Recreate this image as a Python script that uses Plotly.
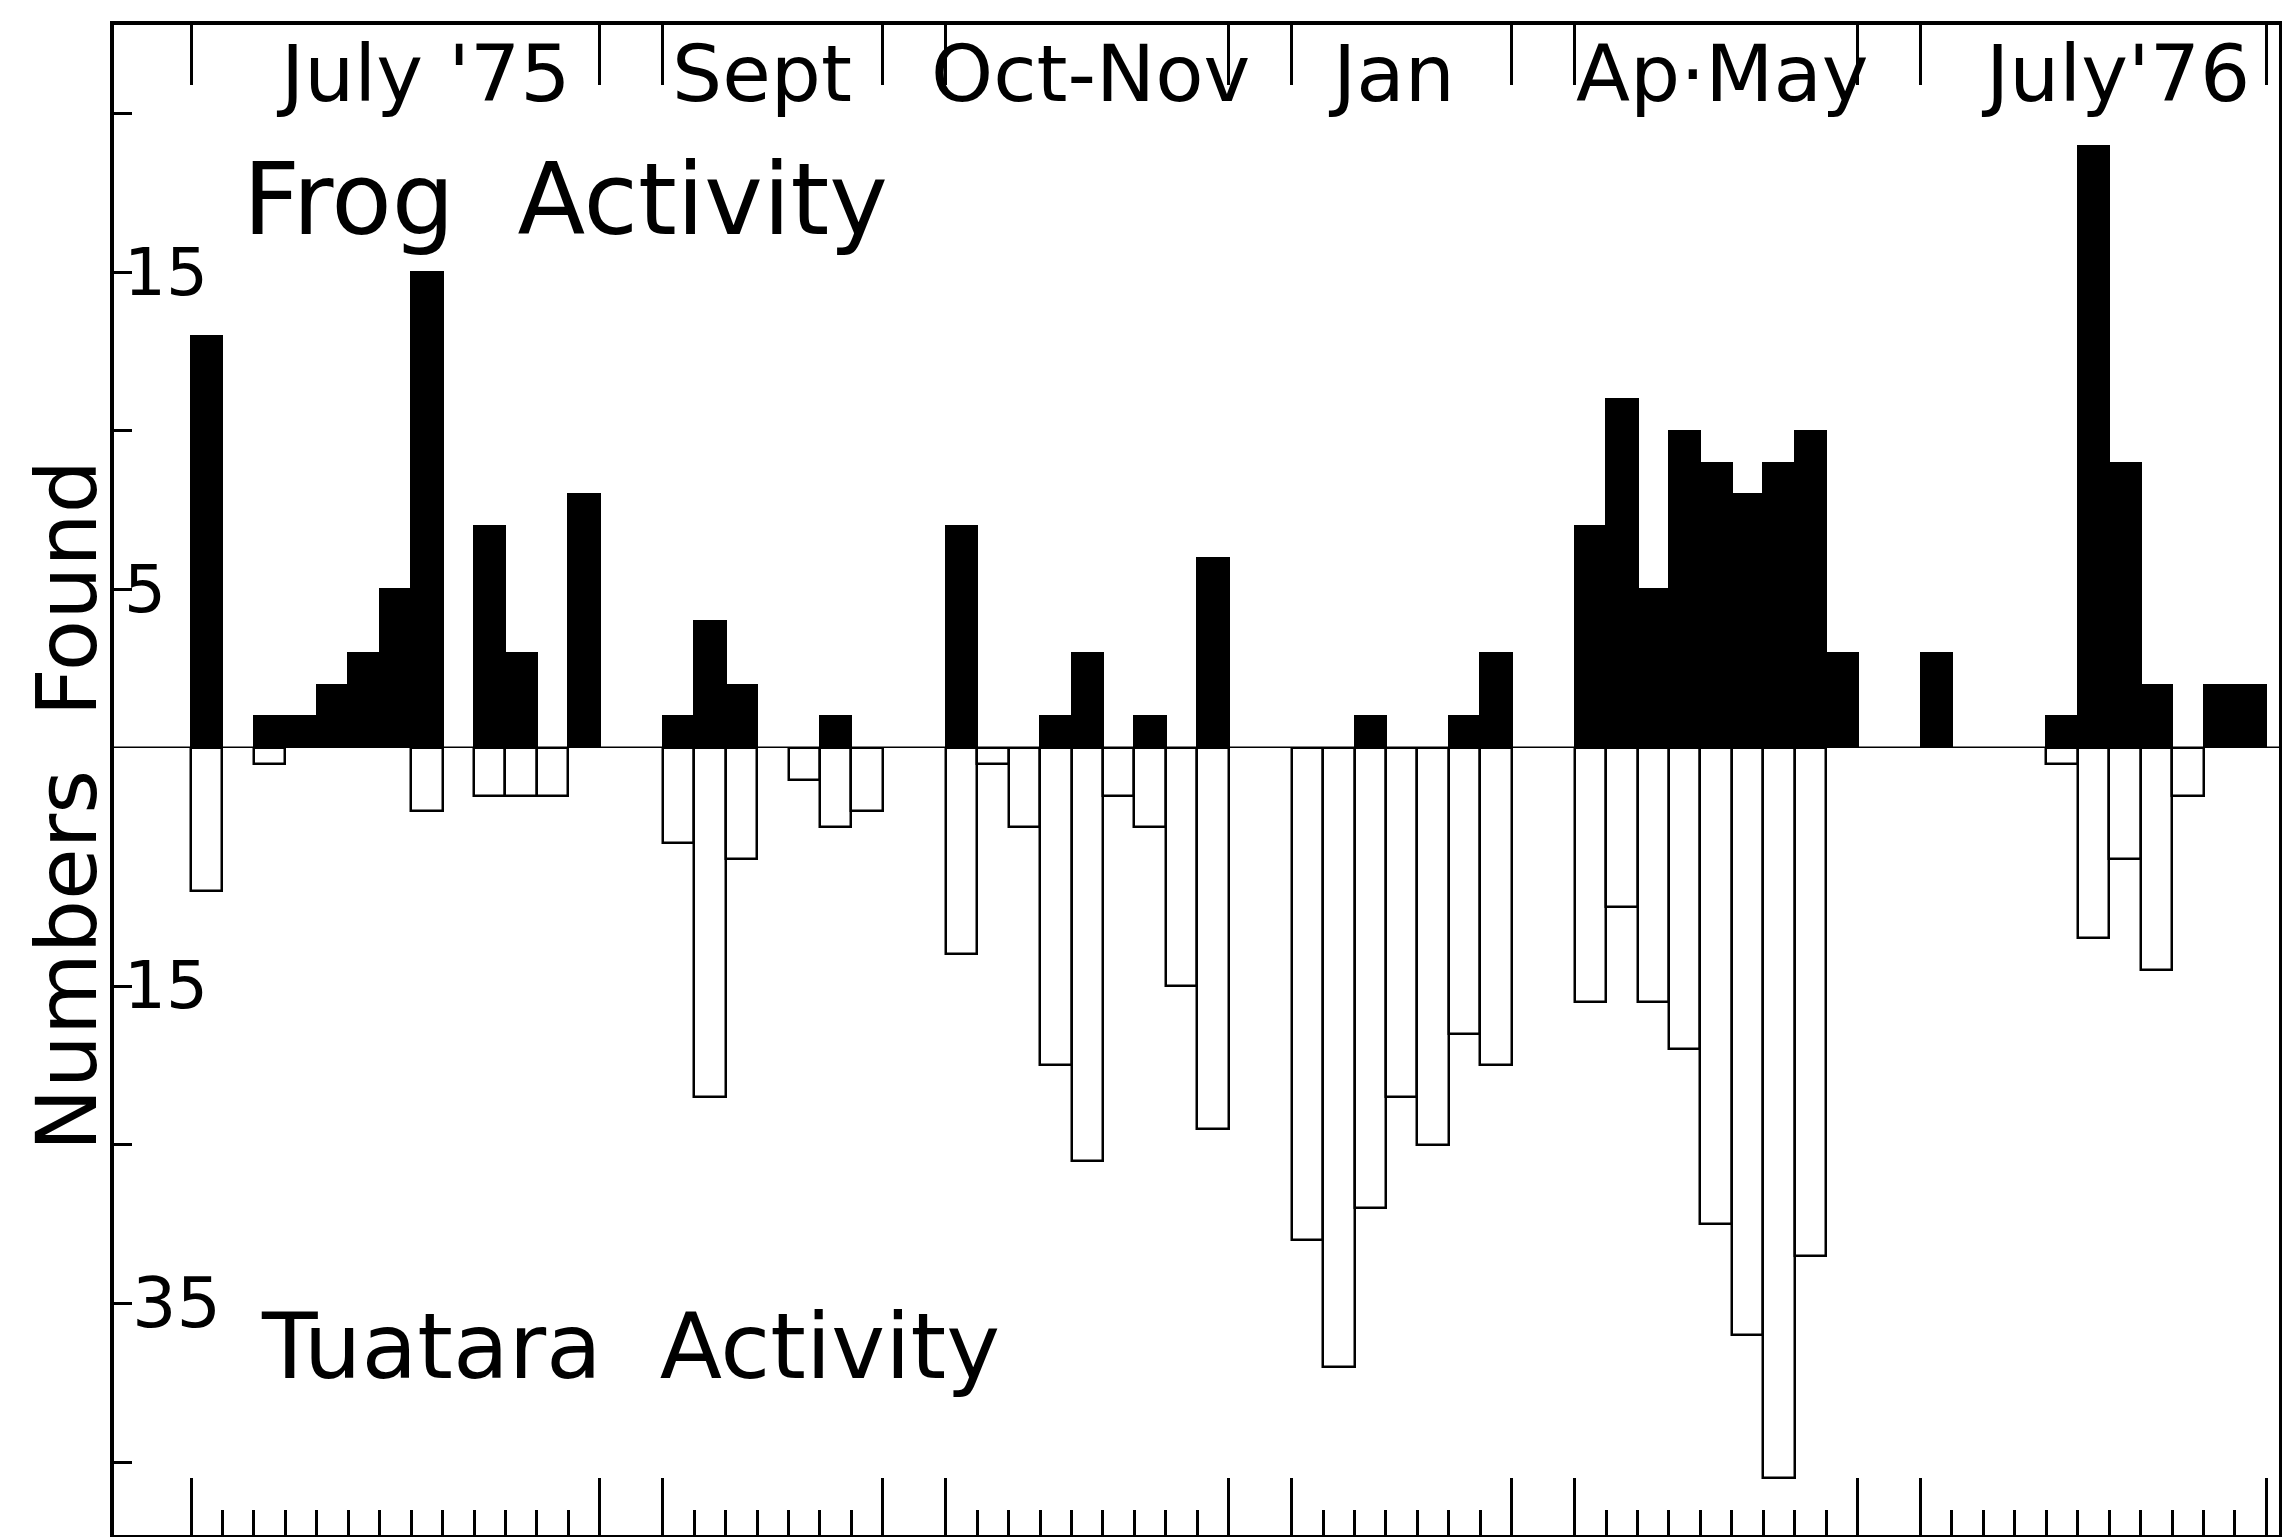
import plotly.graph_objects as go

# ---- data ----
# consecutive sampling nights, numbered 1..66
samples = list(range(1, 67))
frog = [13, 0, 1, 1, 2, 3, 5, 15, 0, 7, 3, 0, 8, 0, 0, 1, 4, 2, 0, 0,
        1, 0, 0, 0, 7, 0, 0, 1, 3, 0, 1, 0, 6, 0, 0, 0, 0, 1, 0, 0,
        1, 3, 0, 0, 7, 11, 5, 10, 9, 8, 9, 10, 3, 0, 0, 3, 0, 0, 0, 1,
        19, 9, 2, 0, 2, 2]
tuatara = [9, 0, 1, 0, 0, 0, 0, 4, 0, 3, 3, 3, 0, 0, 0, 6, 22, 7, 0, 2,
           5, 4, 0, 0, 13, 1, 5, 20, 26, 3, 5, 15, 24, 0, 0, 31, 39, 29, 22, 25,
           18, 20, 0, 0, 16, 10, 16, 19, 30, 37, 46, 32, 0, 0, 0, 0, 0, 0, 0, 1,
           12, 7, 14, 3, 0, 0]

group_labels = ["July '75", "Sept", "Oct-Nov", "Jan", "Ap\u00b7May", "July'76"]
group_first = [1, 16, 25, 36, 45, 56]
group_last = [13, 22, 33, 42, 53, 66]

frog_ticks = [5, 10, 15, 20]
frog_ticktext = ["5", "", "15", ""]
tuatara_ticks = [15, 25, 35, 45]
tuatara_ticktext = ["15", "", "35", ""]

FONT = "DejaVu Sans"

# layout tweak for the hand-placed month labels (offset in bar widths)
label_shift = [0.87, -0.33, 0.09, -0.33, 0.21, 0.7]

frog_plot = [v if v > 0 else None for v in frog]
tua_plot = [v if v > 0 else None for v in tuatara]

major = sorted(set([a - 0.5 for a in group_first] + [b + 0.5 for b in group_last]))
minor = [e + 0.5 for a, b in zip(group_first, group_last) for e in range(a, b)]

fig = go.Figure()
fig.add_trace(go.Bar(x=samples, y=frog_plot, width=1, xaxis="x", yaxis="y",
                     marker=dict(color="black", line=dict(color="black", width=2)),
                     showlegend=False))
fig.add_trace(go.Bar(x=samples, y=tua_plot, width=1, xaxis="x2", yaxis="y2",
                     marker=dict(color="white", line=dict(color="black", width=2.5)),
                     showlegend=False))

split = 787 / 1510
xr = [-1.95, 66.9]
common = dict(showline=True, linecolor="black", linewidth=4, showgrid=False,
              zeroline=False, automargin=False)

fig.update_layout(
    width=2282, height=1537,
    margin=dict(l=114, r=3, t=25, b=2, autoexpand=False),
    paper_bgcolor="white", plot_bgcolor="white",
    font=dict(family=FONT, color="black"),
    bargap=0,
    xaxis=dict(domain=[0, 1], range=xr, anchor="y", side="top",
               ticks="inside", tickmode="array", tickvals=major, ticklen=60,
               tickwidth=3, tickcolor="black", showticklabels=False, **common),
    xaxis2=dict(domain=[0, 1], range=xr, anchor="y2", side="bottom", matches="x",
                ticks="inside", tickmode="array", tickvals=major, ticklen=57,
                tickwidth=3, tickcolor="black", showticklabels=False,
                minor=dict(tickmode="array", tickvals=minor, ticks="inside",
                           ticklen=25, tickwidth=3, tickcolor="black"),
                **common),
    yaxis=dict(domain=[split, 1], range=[0, 22.8], anchor="x", mirror=True,
               ticks="inside", tickmode="array", tickvals=frog_ticks,
               ticklen=18, tickwidth=3, tickcolor="black",
               showticklabels=False, **common),
    yaxis2=dict(domain=[0, split], range=[49.6, 0], anchor="x2", mirror=True,
                ticks="inside", tickmode="array", tickvals=tuatara_ticks,
                ticklen=18, tickwidth=3, tickcolor="black",
                showticklabels=False, **common),
)

# y tick labels drawn just inside the frame
for v, t in zip(frog_ticks, frog_ticktext):
    if t:
        fig.add_annotation(x=0.0035, y=v, xref="paper", yref="y", text=t,
                           showarrow=False, xanchor="left", yanchor="middle",
                           font=dict(size=66, family=FONT, color="black"))
for v, t in zip(tuatara_ticks, tuatara_ticktext):
    if t:
        fig.add_annotation(x=0.0035 if v < 30 else 0.0075, y=v, xref="paper", yref="y2",
                           text=t, showarrow=False, xanchor="left", yanchor="middle",
                           font=dict(size=66 if v < 30 else 70, family=FONT, color="black"))

# zero line
fig.add_shape(type="line", xref="paper", x0=0, x1=1, yref="y", y0=0, y1=0,
              line=dict(color="black", width=3))

# group labels along the top
for lab, a, b, dx in zip(group_labels, group_first, group_last, label_shift):
    fig.add_annotation(x=(a + b) / 2 + dx, y=21.25, xref="x", yref="y", text=lab,
                       showarrow=False, xanchor="center", yanchor="middle",
                       font=dict(size=79, family=FONT, color="black"))

fig.add_annotation(x=2.1, y=17.3, xref="x", yref="y", text="Frog\u00a0\u00a0Activity",
                   showarrow=False, xanchor="left", yanchor="middle",
                   font=dict(size=99, family=FONT, color="black"))
fig.add_annotation(x=2.65, y=37.7, xref="x2", yref="y2", text="Tuatara\u00a0\u00a0Activity",
                   showarrow=False, xanchor="left", yanchor="middle",
                   font=dict(size=91, family=FONT, color="black"))
fig.add_annotation(x=-0.0217, y=0.4827, xref="paper", yref="paper",
                   text="Numbers\u00a0\u00a0Found", textangle=-90, showarrow=False,
                   xanchor="center", yanchor="middle",
                   font=dict(size=84, family=FONT, color="black"))

fig.write_html("out.html", post_script="document.body.style.margin='0';",
               config={"displayModeBar": False})
